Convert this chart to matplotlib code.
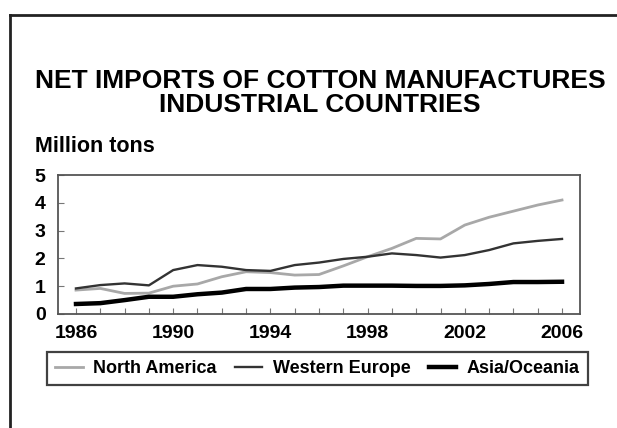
import matplotlib
matplotlib.use("Agg")
import matplotlib.pyplot as plt
from matplotlib.lines import Line2D

years = list(range(1986, 2007))
north_america = [0.86, 0.92, 0.74, 0.75, 1.00, 1.08, 1.34, 1.52, 1.49, 1.40, 1.42,
                 1.73, 2.06, 2.36, 2.72, 2.70, 3.20, 3.48, 3.70, 3.92, 4.10]
western_europe = [0.92, 1.04, 1.10, 1.03, 1.58, 1.76, 1.70, 1.58, 1.55, 1.76, 1.85,
                  1.98, 2.06, 2.18, 2.12, 2.03, 2.12, 2.30, 2.54, 2.63, 2.70]
asia_oceania = [0.36, 0.39, 0.50, 0.62, 0.62, 0.71, 0.77, 0.90, 0.90, 0.95, 0.97,
                1.02, 1.02, 1.02, 1.01, 1.01, 1.03, 1.08, 1.15, 1.15, 1.16]
series_names = ["North America", "Western Europe", "Asia/Oceania"]
xtick_labels = ["1986", "1990", "1994", "1998", "2002", "2006"]
ytick_labels = ["0", "1", "2", "3", "4", "5"]

plt.rcParams['font.family'] = ['Liberation Sans', 'DejaVu Sans']
plt.rcParams['font.weight'] = 'bold'

W, H = 617, 428
fig = plt.figure(figsize=(W / 100, H / 100), dpi=100)
fig.patch.set_facecolor("white")

# outer frame (top and left edges)
fig.add_artist(Line2D([10 / W, 10 / W], [0, 1 - 15 / H], transform=fig.transFigure,
                      color="#222222", lw=2))
fig.add_artist(Line2D([10 / W, 1], [1 - 15 / H, 1 - 15 / H], transform=fig.transFigure,
                      color="#222222", lw=2))

ax = fig.add_axes([58 / W, 1 - 314 / H, (580 - 58) / W, (314 - 175) / H])

ax.plot(years, north_america, color="#a8a8a8", lw=2.0, label=series_names[0])
ax.plot(years, western_europe, color="#333333", lw=1.7, label=series_names[1])
ax.plot(years, asia_oceania, color="#000000", lw=3.2, label=series_names[2])

ax.set_xlim(1985.26, 2006.74)
ax.set_ylim(0, 5)

ax.set_xticks([int(t) for t in xtick_labels])
ax.set_xticklabels(xtick_labels)
ax.set_xticks(years, minor=True)
ax.set_yticks([int(t) for t in ytick_labels])
ax.set_yticklabels(ytick_labels)

ax.tick_params(axis="both", which="both", direction="in", color="#777777",
               length=4, width=0.8, labelsize=14, pad=9)
ax.tick_params(axis="x", which="major", pad=8)
for lab in ax.get_xticklabels() + ax.get_yticklabels():
    lab.set_fontweight("bold")

for sp in ax.spines.values():
    sp.set_color("#555555")
    sp.set_linewidth(1.3)

fig.text(320 / W, 1 - 80.5 / H, "NET IMPORTS OF COTTON MANUFACTURES",
         ha="center", va="center", fontsize=19, fontweight="bold")
fig.text(320 / W, 1 - 105 / H, "INDUSTRIAL COUNTRIES",
         ha="center", va="center", fontsize=19, fontweight="bold")
fig.text(35 / W, 1 - 147 / H, "Million tons", ha="left", va="center",
         fontsize=15.5, fontweight="bold")

leg = fig.legend(loc="center", bbox_to_anchor=(317.5 / W, 1 - 368.5 / H), ncol=3,
                 frameon=True, fancybox=False, handlelength=1.5, handletextpad=0.6,
                 columnspacing=1.0, borderpad=0.45,
                 prop={"size": 13, "weight": "bold"})
leg.get_frame().set_edgecolor("#111111")
leg.get_frame().set_linewidth(1.6)

fig.savefig("out.png", dpi=100)
